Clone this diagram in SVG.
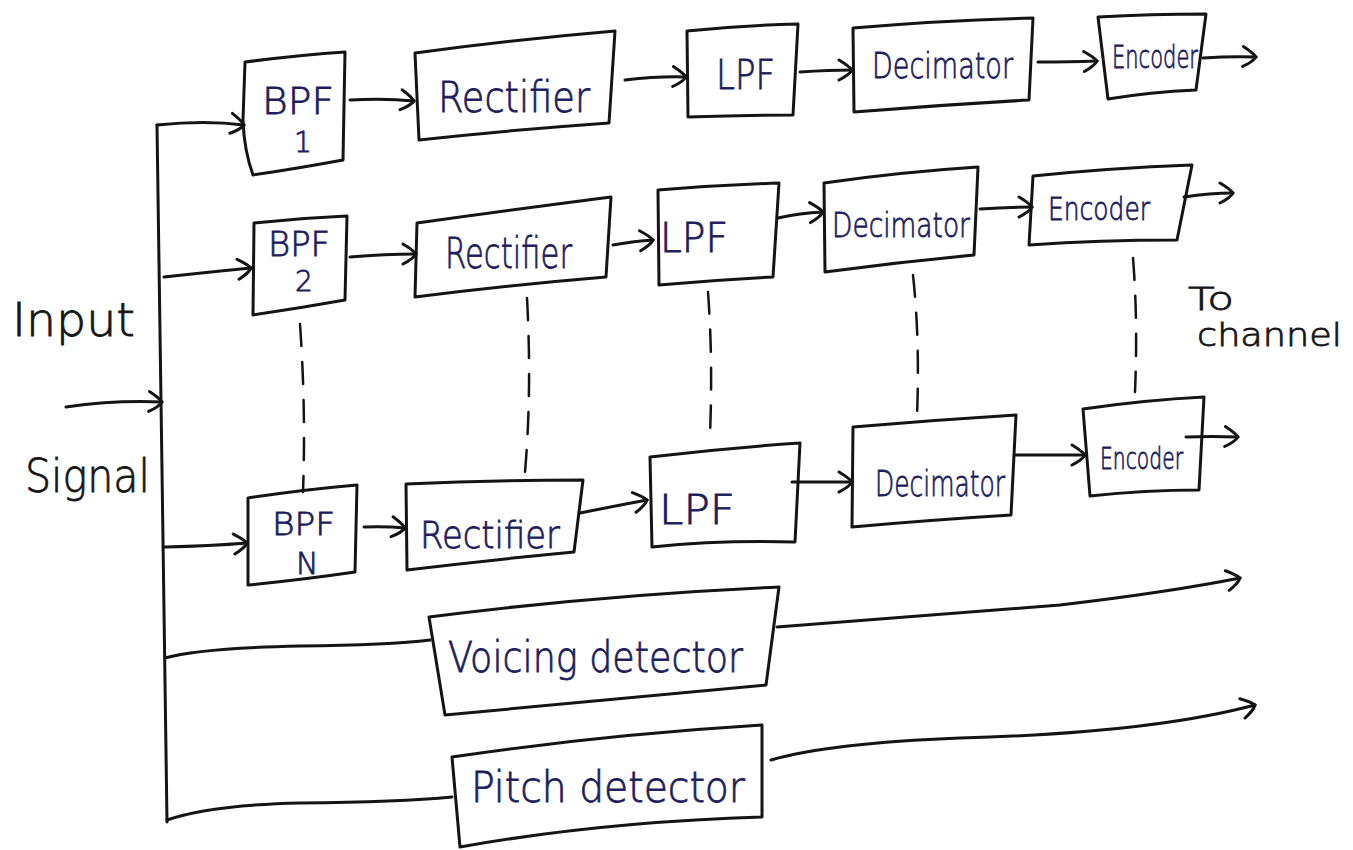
<svg xmlns="http://www.w3.org/2000/svg" width="1353" height="850" viewBox="0 0 1353 850">
  <defs>
    <style>
      .box { fill: none; stroke: #141414; stroke-width: 3; stroke-linejoin: round; }
      .wire { fill: none; stroke: #141414; stroke-width: 3; stroke-linecap: round; }
      .arrow { fill: none; stroke: #141414; stroke-width: 3; stroke-linecap: round; marker-end: url(#head); }
      .dash { fill: none; stroke: #141414; stroke-width: 2.5; stroke-dasharray: 22 16; stroke-linecap: round; }
      .lbl { font-family: "DejaVu Sans", "Liberation Sans", Arial, sans-serif; font-weight: 200; fill: #1d1d5e; stroke: #1d1d5e; stroke-width: 0.8; }
      .note { font-family: "DejaVu Sans", "Liberation Sans", Arial, sans-serif; font-weight: 200; fill: #161616; stroke: #161616; stroke-width: 0.8; }
    </style>
    <!-- open, hand-drawn style chevron -->
    <marker id="head" viewBox="-16 -12 20 24" markerWidth="20" markerHeight="24" refX="0" refY="0" orient="auto" markerUnits="userSpaceOnUse">
      <path d="M -13 -10 Q -3 -4 0 0 Q -3 5 -13 10" fill="none" stroke="#141414" stroke-width="3" stroke-linecap="round"/>
    </marker>
  </defs>

  <rect width="1353" height="850" fill="#ffffff"/>

  <!-- side labels -->
  <g id="input-label">
    <text class="note" x="12" y="336" font-size="46" textLength="123" lengthAdjust="spacingAndGlyphs">Input</text>
    <text class="note" x="25" y="492" font-size="46" textLength="125" lengthAdjust="spacingAndGlyphs">Signal</text>
  </g>
  <g id="channel-label">
    <text class="note" x="1188" y="310" font-size="32" textLength="46" lengthAdjust="spacingAndGlyphs">To</text>
    <text class="note" x="1197" y="346" font-size="32" textLength="145" lengthAdjust="spacingAndGlyphs">channel</text>
  </g>

  <!-- connectors -->
  <g id="connectors">
    <!-- input signal and distribution bus -->
    <path class="arrow" d="M 66 407 Q 115 400 162 402"/>
    <path class="wire" d="M 157 125 L 162 470 L 167 822"/>
    <path class="arrow" d="M 157 125 Q 205 120 244 125"/>
    <path class="arrow" d="M 164 277 Q 210 272 251 268"/>
    <path class="arrow" d="M 165 547 Q 210 546 247 543"/>
    <path class="wire" d="M 165 658 Q 200 648 300 646 Q 390 645 430 640"/>
    <path class="wire" d="M 167 820 Q 210 805 300 803 Q 400 802 452 797"/>

    <!-- channel 1 -->
    <path class="arrow" d="M 350 100 Q 385 98 414 101"/>
    <path class="arrow" d="M 625 80 Q 660 76 686 77"/>
    <path class="arrow" d="M 800 72 Q 830 70 852 70"/>
    <path class="arrow" d="M 1038 62 Q 1070 62 1097 61"/>
    <path class="arrow" d="M 1203 58 Q 1232 56 1256 57"/>

    <!-- channel 2 -->
    <path class="arrow" d="M 350 257 Q 385 254 416 254"/>
    <path class="arrow" d="M 613 245 Q 635 241 653 240"/>
    <path class="arrow" d="M 778 218 Q 800 213 823 212"/>
    <path class="arrow" d="M 980 209 Q 1005 207 1032 207"/>
    <path class="arrow" d="M 1184 197 Q 1210 193 1233 193"/>

    <!-- channel N -->
    <path class="arrow" d="M 364 527 Q 385 526 405 528"/>
    <path class="arrow" d="M 580 513 Q 615 506 647 500"/>
    <path class="arrow" d="M 792 482 Q 822 482 852 482"/>
    <path class="arrow" d="M 1016 455 Q 1050 455 1085 455"/>
    <path class="arrow" d="M 1186 437 Q 1212 436 1238 437"/>

    <!-- detector outputs -->
    <path class="arrow" d="M 777 627 Q 950 613 1060 605 Q 1170 592 1240 578"/>
    <path class="arrow" d="M 771 760 Q 830 743 960 738 Q 1150 733 1255 705"/>

    <!-- channel repetition -->
    <path class="dash" d="M 300 324 Q 306 410 303 492"/>
    <path class="dash" d="M 527 298 Q 532 390 525 472"/>
    <path class="dash" d="M 708 292 Q 713 360 710 434"/>
    <path class="dash" d="M 913 275 Q 920 340 917 416"/>
    <path class="dash" d="M 1133 258 Q 1138 320 1135 392" stroke-dasharray="14 20"/>
  </g>

  <!-- channel 1 blocks -->
  <g id="bpf1">
    <path class="box" d="M 245 62 Q 300 55 345 52 L 343 160 Q 300 168 253 175 Q 244 150 243 120 Z"/>
    <text class="lbl" x="262" y="114" font-size="38" textLength="72" lengthAdjust="spacingAndGlyphs">BPF</text>
    <text class="lbl" x="294" y="152" font-size="28">1</text>
  </g>
  <g id="rectifier1">
    <path class="box" d="M 415 53 Q 510 40 615 31 L 609 123 Q 510 130 419 140 Z"/>
    <text class="lbl" x="438" y="112" font-size="42" textLength="152" lengthAdjust="spacingAndGlyphs">Rectifier</text>
  </g>
  <g id="lpf1">
    <path class="box" d="M 687 31 Q 745 25 798 24 L 793 115 Q 740 115 688 117 Z"/>
    <text class="lbl" x="716" y="89" font-size="40" textLength="59" lengthAdjust="spacingAndGlyphs">LPF</text>
  </g>
  <g id="decimator1">
    <path class="box" d="M 853 28 Q 945 20 1033 18 L 1029 100 Q 940 105 854 112 Z"/>
    <text class="lbl" x="872" y="78" font-size="36" textLength="141" lengthAdjust="spacingAndGlyphs">Decimator</text>
  </g>
  <g id="encoder1">
    <path class="box" d="M 1098 17 Q 1150 14 1206 14 L 1196 90 Q 1150 92 1108 99 Z"/>
    <text class="lbl" x="1112" y="68" font-size="32" textLength="86" lengthAdjust="spacingAndGlyphs">Encoder</text>
  </g>

  <!-- channel 2 blocks -->
  <g id="bpf2">
    <path class="box" d="M 254 223 Q 300 218 347 216 L 345 300 Q 300 308 253 315 Z"/>
    <text class="lbl" x="268" y="256" font-size="34" textLength="62" lengthAdjust="spacingAndGlyphs">BPF</text>
    <text class="lbl" x="295" y="291" font-size="28">2</text>
  </g>
  <g id="rectifier2">
    <path class="box" d="M 417 223 Q 510 210 611 197 L 606 277 Q 510 285 415 297 Z"/>
    <text class="lbl" x="445" y="268" font-size="42" textLength="127" lengthAdjust="spacingAndGlyphs">Rectifier</text>
  </g>
  <g id="lpf2">
    <path class="box" d="M 658 190 Q 720 185 779 183 L 773 277 Q 715 280 659 285 Z"/>
    <text class="lbl" x="660" y="252" font-size="40" textLength="68" lengthAdjust="spacingAndGlyphs">LPF</text>
  </g>
  <g id="decimator2">
    <path class="box" d="M 824 183 Q 900 172 978 167 L 974 255 Q 900 262 825 272 Z"/>
    <text class="lbl" x="832" y="237" font-size="34" textLength="138" lengthAdjust="spacingAndGlyphs">Decimator</text>
  </g>
  <g id="encoder2">
    <path class="box" d="M 1033 176 Q 1110 168 1192 165 L 1177 240 Q 1100 240 1029 245 Z"/>
    <text class="lbl" x="1048" y="220" font-size="32" textLength="102" lengthAdjust="spacingAndGlyphs">Encoder</text>
  </g>

  <!-- channel N blocks -->
  <g id="bpfN">
    <path class="box" d="M 248 498 Q 300 490 357 485 L 355 572 Q 300 580 248 585 Z"/>
    <text class="lbl" x="272" y="535" font-size="32" textLength="63" lengthAdjust="spacingAndGlyphs">BPF</text>
    <text class="lbl" x="296" y="574" font-size="30">N</text>
  </g>
  <g id="rectifierN">
    <path class="box" d="M 406 484 Q 495 480 583 480 L 574 552 Q 490 560 407 570 Z"/>
    <text class="lbl" x="420" y="548" font-size="38" textLength="140" lengthAdjust="spacingAndGlyphs">Rectifier</text>
  </g>
  <g id="lpfN">
    <path class="box" d="M 650 457 Q 725 448 800 443 L 795 542 Q 720 540 652 547 Z"/>
    <text class="lbl" x="659" y="524" font-size="40" textLength="76" lengthAdjust="spacingAndGlyphs">LPF</text>
  </g>
  <g id="decimatorN">
    <path class="box" d="M 853 427 Q 935 420 1016 415 L 1011 515 Q 930 520 852 527 Z"/>
    <text class="lbl" x="875" y="496" font-size="36" textLength="130" lengthAdjust="spacingAndGlyphs">Decimator</text>
  </g>
  <g id="encoderN">
    <path class="box" d="M 1083 409 Q 1145 400 1204 397 L 1199 490 Q 1145 490 1090 496 Z"/>
    <text class="lbl" x="1100" y="469" font-size="30" textLength="83" lengthAdjust="spacingAndGlyphs">Encoder</text>
  </g>

  <!-- side-chain detectors -->
  <g id="voicing-detector">
    <path class="box" d="M 429 617 Q 600 595 779 587 L 766 685 Q 600 700 445 715 Z"/>
    <text class="lbl" x="448" y="672" font-size="42" textLength="295" lengthAdjust="spacingAndGlyphs">Voicing detector</text>
  </g>
  <g id="pitch-detector">
    <path class="box" d="M 452 757 Q 600 735 762 725 L 762 817 Q 600 822 460 847 Z"/>
    <text class="lbl" x="471" y="802" font-size="42" textLength="274" lengthAdjust="spacingAndGlyphs">Pitch detector</text>
  </g>
</svg>
